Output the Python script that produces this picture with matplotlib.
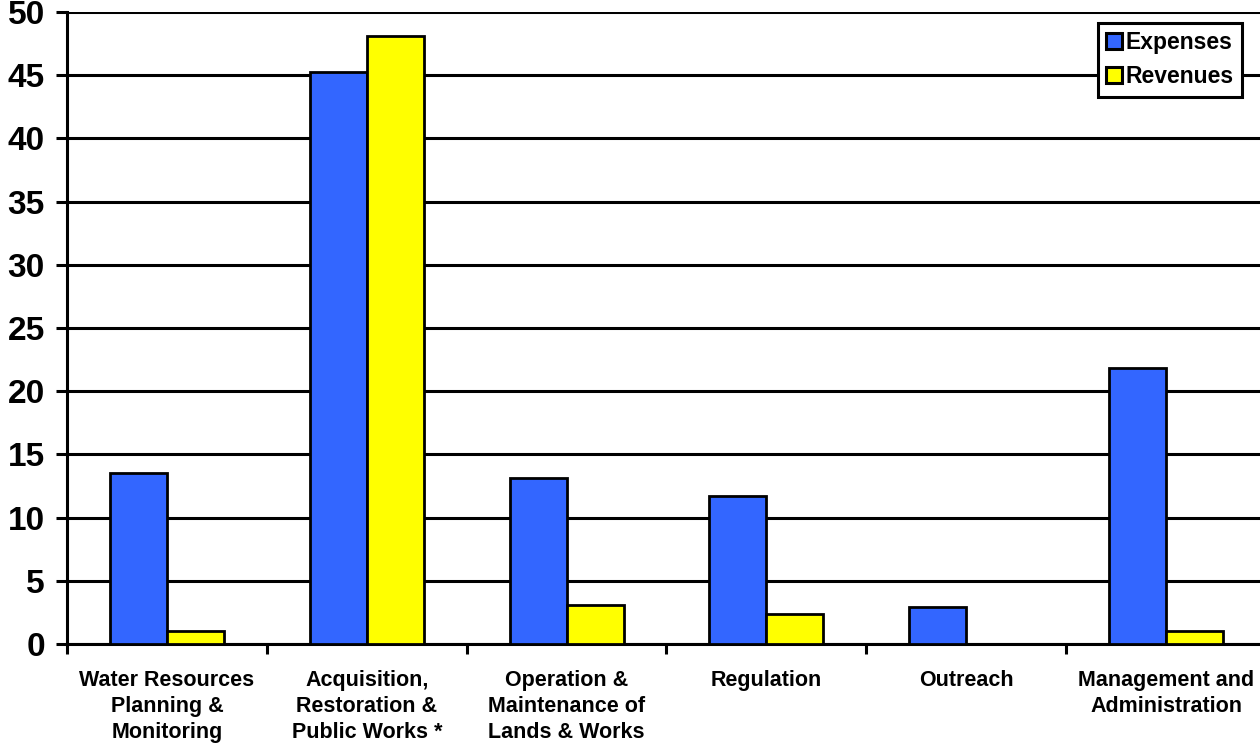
import numpy as np
import matplotlib.pyplot as plt

plt.rcParams['font.family'] = ['Liberation Sans', 'DejaVu Sans']
plt.rcParams['font.weight'] = 'bold'

categories = [
    "Water Resources\nPlanning &\nMonitoring",
    "Acquisition,\nRestoration &\nPublic Works *",
    "Operation &\nMaintenance of\nLands & Works",
    "Regulation",
    "Outreach",
    "Management and\nAdministration",
]
expenses = [13.5, 45.25, 13.1, 11.7, 2.9, 21.8]
revenues = [1.0, 48.1, 3.1, 2.4, 0.0, 1.0]
yticks = [0, 5, 10, 15, 20, 25, 30, 35, 40, 45, 50]

W, H = 1260, 748
fig = plt.figure(figsize=(W / 100, H / 100), dpi=100)
# axes box in pixels: left 67, right 1266, top 12, bottom 644
ax = fig.add_axes([67 / W, (H - 644) / H, (1266 - 67) / W, (644 - 12) / H])

x = np.arange(len(categories))
bw = 0.285
ax.bar(x - bw / 2, expenses, bw, color="#3366FF", edgecolor="black",
       linewidth=2, label="Expenses", zorder=3)
ax.bar(x + bw / 2, revenues, bw, color="#FFFF00", edgecolor="black",
       linewidth=2, label="Revenues", zorder=3)

ax.set_xlim(-0.5, len(categories) - 0.5)
ax.set_ylim(0, 50)
ax.set_yticks(yticks)
ax.set_yticklabels([str(v) for v in yticks], fontsize=24, fontweight="bold")
ax.yaxis.grid(True, color="black", linewidth=2.2, zorder=0)
ax.set_axisbelow(True)

# category boundaries as major ticks, labels on minor ticks at centers
ax.set_xticks(np.arange(len(categories) + 1) - 0.5)
ax.set_xticklabels([])
ax.set_xticks(x, minor=True)
ax.set_xticklabels(categories, minor=True, fontsize=15.5, fontweight="bold",
                   linespacing=1.3)
ax.tick_params(axis="x", which="major", length=7, width=2.2, direction="out")
ax.tick_params(axis="x", which="minor", length=0, pad=19)
ax.tick_params(axis="y", length=8, width=2.2, pad=8)

for s in ["top", "right"]:
    ax.spines[s].set_visible(False)
for s in ["left", "bottom"]:
    ax.spines[s].set_linewidth(2.2)

leg = ax.legend(loc="upper right", bbox_to_anchor=(1242 / W, (H - 23) / H),
                bbox_transform=fig.transFigure,
                prop={"weight": "bold", "size": 16.5}, frameon=True,
                fancybox=False, framealpha=1, edgecolor="black",
                handlelength=0.7, handleheight=0.7, handletextpad=0.15,
                borderpad=0.35, labelspacing=0.5, borderaxespad=0)
leg.get_frame().set_linewidth(2.2)
for p in leg.get_patches():
    p.set_linewidth(2.2)
leg.set_zorder(5)

fig.savefig("out.png", dpi=100)
